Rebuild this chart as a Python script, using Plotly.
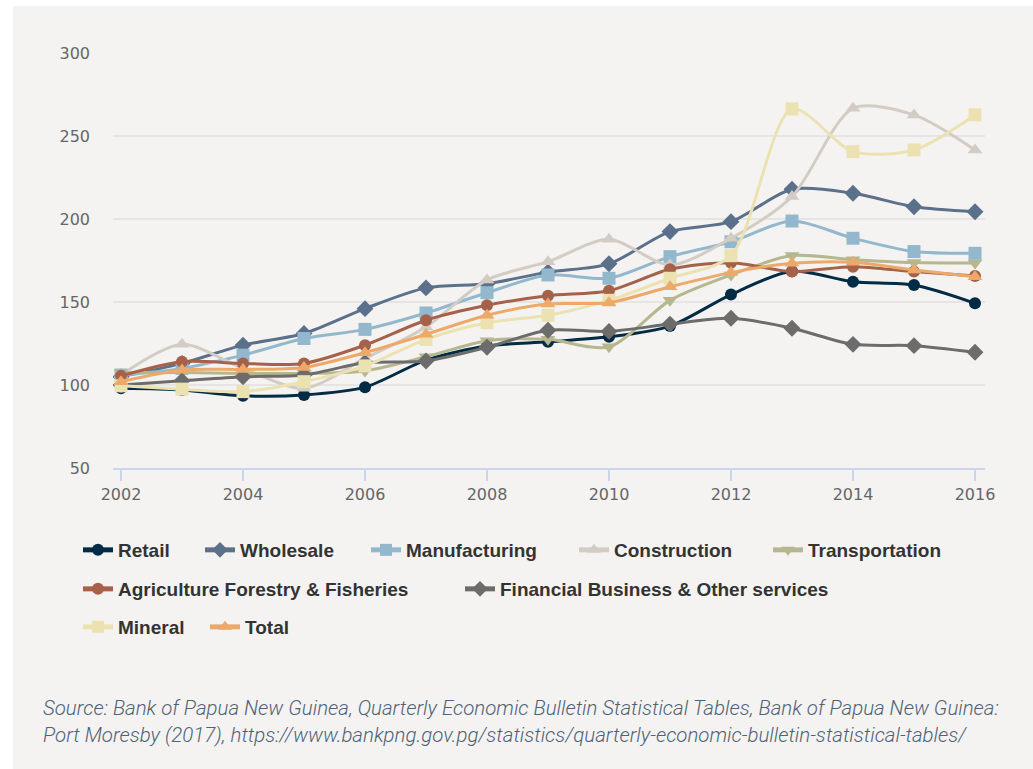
import plotly.graph_objects as go

years = list(range(2002, 2017))

retail = [98, 97, 93.5, 94, 98.7, 115, 123.5, 126, 129, 135.5, 154.5, 168.5, 162.2, 160.2, 149.2]
wholesale = [105, 113, 124, 131, 146, 158.5, 161, 168, 173, 192.4, 198.4, 217.9, 215.5, 207.4, 204.4]
manufacturing = [106, 110, 118, 128, 133.5, 143.4, 155.6, 166.3, 164.3, 177.3, 186.3, 198.8, 188.4, 180.4, 179.3]
construction = [106, 124.5, 110, 98, 116, 135, 163.3, 174.3, 187.8, 172.3, 188.4, 213.5, 266.7, 262.7, 241.6]
transportation = [107.4, 107.5, 107, 107, 108.5, 117, 126.7, 127.5, 123, 151, 166.3, 178, 175.5, 173.8, 173.5]
agriculture = [105.5, 114, 113, 113, 124, 139, 148, 153.8, 156.8, 169.7, 173.7, 168.3, 171.3, 168.3, 165.7]
financial = [100, 102.5, 105, 106, 113.4, 114.5, 122.7, 133, 132.3, 136.7, 140.2, 134.2, 124.5, 123.7, 119.7]
mineral = [99.5, 97.5, 96, 102, 111.5, 127.5, 137.5, 142, 151, 164.3, 177.9, 266.3, 240.6, 241.6, 262.7]
total = [102, 109, 109.4, 110.6, 119.5, 130.5, 142, 148.8, 149.6, 159.2, 167.7, 173.3, 173.9, 169.3, 165.2]

series_names = ["Retail", "Wholesale", "Manufacturing", "Construction", "Transportation",
                "Agriculture Forestry & Fisheries", "Financial Business & Other services",
                "Mineral", "Total"]
series_values = [retail, wholesale, manufacturing, construction, transportation,
                 agriculture, financial, mineral, total]
series_colors = ["#022b45", "#5b708a", "#93b8cd", "#d3ccc4", "#b6b68f",
                 "#a6614a", "#6c6c6c", "#ece2b1", "#eda96a"]
series_symbols = ["circle", "diamond", "square", "triangle-up", "triangle-down",
                  "circle", "diamond", "square", "triangle-up"]

x_tick_vals = [2002, 2004, 2006, 2008, 2010, 2012, 2014, 2016]
y_tick_vals = [50, 100, 150, 200, 250, 300]

W, H = 1033, 769
ML, MR, MT, MB = 113, 48, 53, 301
PW = W - ML - MR
PH = H - MT - MB

def px_x(px):
    return (px - ML) / PW

def px_y(py):
    return (H - MB - py) / PH

# legend layout (pixel positions of each item's text start, row centre)
legend_pos = [(118, 550), (240, 550), (406, 550), (614, 550), (808, 550),
              (118, 589), (500, 589),
              (118, 627), (245, 627)]

fig = go.Figure()
layout_legends = {}
for i, (name, vals, col, sym) in enumerate(zip(series_names, series_values,
                                               series_colors, series_symbols)):
    lname = "legend" if i == 0 else f"legend{i+1}"
    msize = 12 if sym == "circle" else 13
    fig.add_trace(go.Scatter(
        x=years, y=vals, name=name, mode="lines+markers",
        line=dict(color=col, width=3, shape="spline", smoothing=0.8),
        marker=dict(symbol=sym, size=msize, color=col),
        legend=lname,
    ))
    tx, ty = legend_pos[i]
    layout_legends[lname] = dict(
        x=px_x(tx - 40), y=px_y(ty), xanchor="left", yanchor="middle",
        orientation="h", bgcolor="rgba(0,0,0,0)", borderwidth=0,
        itemsizing="constant",
        font=dict(family="Liberation Sans", size=19, color="#333333", weight="bold"),
    )

fig.update_layout(
    width=W, height=H,
    margin=dict(l=ML, r=MR, t=MT, b=MB),
    paper_bgcolor="#ffffff",
    plot_bgcolor="rgba(0,0,0,0)",
    showlegend=True,
    **layout_legends,
)

# light panel background
fig.add_shape(type="rect", xref="paper", yref="paper",
              x0=px_x(13), x1=px_x(W + 5), y0=px_y(H + 5), y1=px_y(6),
              fillcolor="#f4f3f1", line=dict(width=0), layer="below")

fig.update_xaxes(
    range=[2001.869, 2016.164],
    tickvals=x_tick_vals, ticktext=[str(v) for v in x_tick_vals],
    showgrid=False, zeroline=False,
    showline=True, linecolor="#ccd6eb", linewidth=2,
    ticks="outside", ticklen=11, tickwidth=2, tickcolor="#ccd6eb",
    tickfont=dict(family="DejaVu Sans", size=16, color="#666666"),
)
fig.update_yaxes(
    range=[50, 300],
    tickvals=y_tick_vals,
    showgrid=True, gridcolor="#e6e5e3", gridwidth=2,
    zeroline=False, showline=False, ticks="",
    ticklabelstandoff=22,
    tickfont=dict(family="DejaVu Sans", size=16, color="#666666"),
)

fig.add_annotation(
    xref="paper", yref="paper", x=px_x(41), y=px_y(694),
    xanchor="left", yanchor="top", align="left", showarrow=False,
    text=("Source: Bank of Papua New Guinea, Quarterly Economic Bulletin Statistical Tables, "
          "Bank of Papua New Guinea:<br>Port Moresby (2017), "
          "https://www.bankpng.gov.pg/statistics/quarterly-economic-bulletin-statistical-tables/"),
    font=dict(family="Roboto", size=20.45, color="#4f6276", style="italic", weight=300),
)

fig.write_html("out.html", config={"displayModeBar": False},
               post_script="document.body.style.margin='0';document.body.style.overflow='hidden';")
